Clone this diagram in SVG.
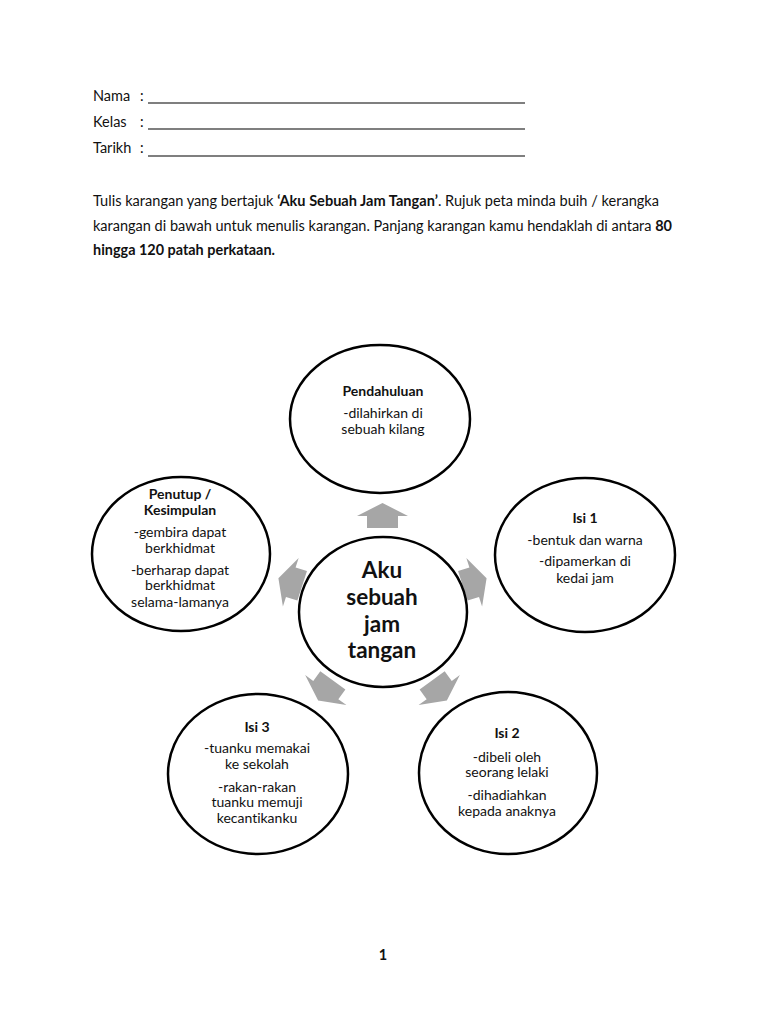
<svg xmlns="http://www.w3.org/2000/svg" width="768" height="1024" viewBox="0 0 768 1024">
<style>
  text { font-variant-ligatures: none; }
  .t { font-family: "Lato", "Open Sans", sans-serif; font-size: 14.5px; fill: #111; }
  .b { font-weight: bold; }
  .n { font-family: "Lato", "Open Sans", sans-serif; font-size: 14px; fill: #111; text-anchor: middle; }
  .c { font-family: "Lato", "Open Sans", sans-serif; font-size: 22.5px; font-weight: bold; fill: #111; text-anchor: middle; }
  .node { fill: #fff; stroke: #000; stroke-width: 2.5; }
  .arr { fill: #a6a6a6; }
  .ul { stroke: #000; stroke-width: 1.2; }
</style>
<defs>
  <path id="arrow" d="M0,-12.5 L25.5,0.5 L15.5,0.5 L15.5,12.5 L-15.5,12.5 L-15.5,0.5 L-25.5,0.5 Z"/>
</defs>
<rect width="768" height="1024" fill="#fff"/>

<g id="header">
  <text class="t" x="93" y="101">Nama</text>
  <text class="t" x="140" y="101">:</text>
  <line class="ul" x1="148" y1="103" x2="525" y2="103"/>
  <text class="t" x="93" y="127">Kelas</text>
  <text class="t" x="140" y="127">:</text>
  <line class="ul" x1="148" y1="129" x2="525" y2="129"/>
  <text class="t" x="93" y="153">Tarikh</text>
  <text class="t" x="140" y="153">:</text>
  <line class="ul" x1="148" y1="156" x2="525" y2="156"/>
</g>

<g id="instructions">
  <text class="t" x="93" y="206" textLength="566" lengthAdjust="spacingAndGlyphs">Tulis karangan yang bertajuk <tspan class="b">‘Aku Sebuah Jam Tangan’</tspan>. Rujuk peta minda buih / kerangka</text>
  <text class="t" x="93" y="231" textLength="579" lengthAdjust="spacingAndGlyphs">karangan di bawah untuk menulis karangan. Panjang karangan kamu hendaklah di antara <tspan class="b">80</tspan></text>
  <text class="t b" x="93" y="255" textLength="182" lengthAdjust="spacingAndGlyphs">hingga 120 patah perkataan.</text>
</g>

<g id="connectors">
  <use href="#arrow" class="arr" transform="translate(382.5,515.5)"/>
  <use href="#arrow" class="arr" transform="translate(474.7,582) rotate(72)"/>
  <use href="#arrow" class="arr" transform="translate(439.5,690.5) rotate(144)"/>
  <use href="#arrow" class="arr" transform="translate(325.5,690.5) rotate(216)"/>
  <use href="#arrow" class="arr" transform="translate(290.3,582) rotate(288)"/>
</g>

<g id="node-center">
  <ellipse class="node" cx="383" cy="612" rx="84" ry="75"/>
  <text class="c" x="382" y="578">Aku</text>
  <text class="c" x="382" y="605">sebuah</text>
  <text class="c" x="382" y="632">jam</text>
  <text class="c" x="382" y="658">tangan</text>
</g>

<g id="node-pendahuluan">
  <ellipse class="node" cx="380" cy="419" rx="90" ry="74"/>
  <text class="n b" x="383" y="396">Pendahuluan</text>
  <text class="n" x="383" y="418">-dilahirkan di</text>
  <text class="n" x="383" y="434">sebuah kilang</text>
</g>

<g id="node-isi1">
  <ellipse class="node" cx="585" cy="555" rx="90" ry="77"/>
  <text class="n b" x="585" y="523">Isi 1</text>
  <text class="n" x="585" y="545">-bentuk dan warna</text>
  <text class="n" x="585" y="566">-dipamerkan di</text>
  <text class="n" x="585" y="583">kedai jam</text>
</g>

<g id="node-isi2">
  <ellipse class="node" cx="508" cy="773" rx="89" ry="81"/>
  <text class="n b" x="507" y="738">Isi 2</text>
  <text class="n" x="507" y="762">-dibeli oleh</text>
  <text class="n" x="507" y="777">seorang lelaki</text>
  <text class="n" x="507" y="800">-dihadiahkan</text>
  <text class="n" x="507" y="816">kepada anaknya</text>
</g>

<g id="node-isi3">
  <ellipse class="node" cx="258" cy="774" rx="90" ry="80"/>
  <text class="n b" x="257" y="732">Isi 3</text>
  <text class="n" x="257" y="753">-tuanku memakai</text>
  <text class="n" x="257" y="769">ke sekolah</text>
  <text class="n" x="257" y="792">-rakan-rakan</text>
  <text class="n" x="257" y="807">tuanku memuji</text>
  <text class="n" x="257" y="823">kecantikanku</text>
</g>

<g id="node-penutup">
  <ellipse class="node" cx="181" cy="554" rx="89" ry="77"/>
  <text class="n b" x="180" y="499">Penutup /</text>
  <text class="n b" x="180" y="515">Kesimpulan</text>
  <text class="n" x="180" y="537">-gembira dapat</text>
  <text class="n" x="180" y="553">berkhidmat</text>
  <text class="n" x="180" y="575">-berharap dapat</text>
  <text class="n" x="180" y="590">berkhidmat</text>
  <text class="n" x="180" y="607">selama-lamanya</text>
</g>

<g id="footer">
  <text class="t b" x="383" y="960" text-anchor="middle">1</text>
</g>
</svg>
